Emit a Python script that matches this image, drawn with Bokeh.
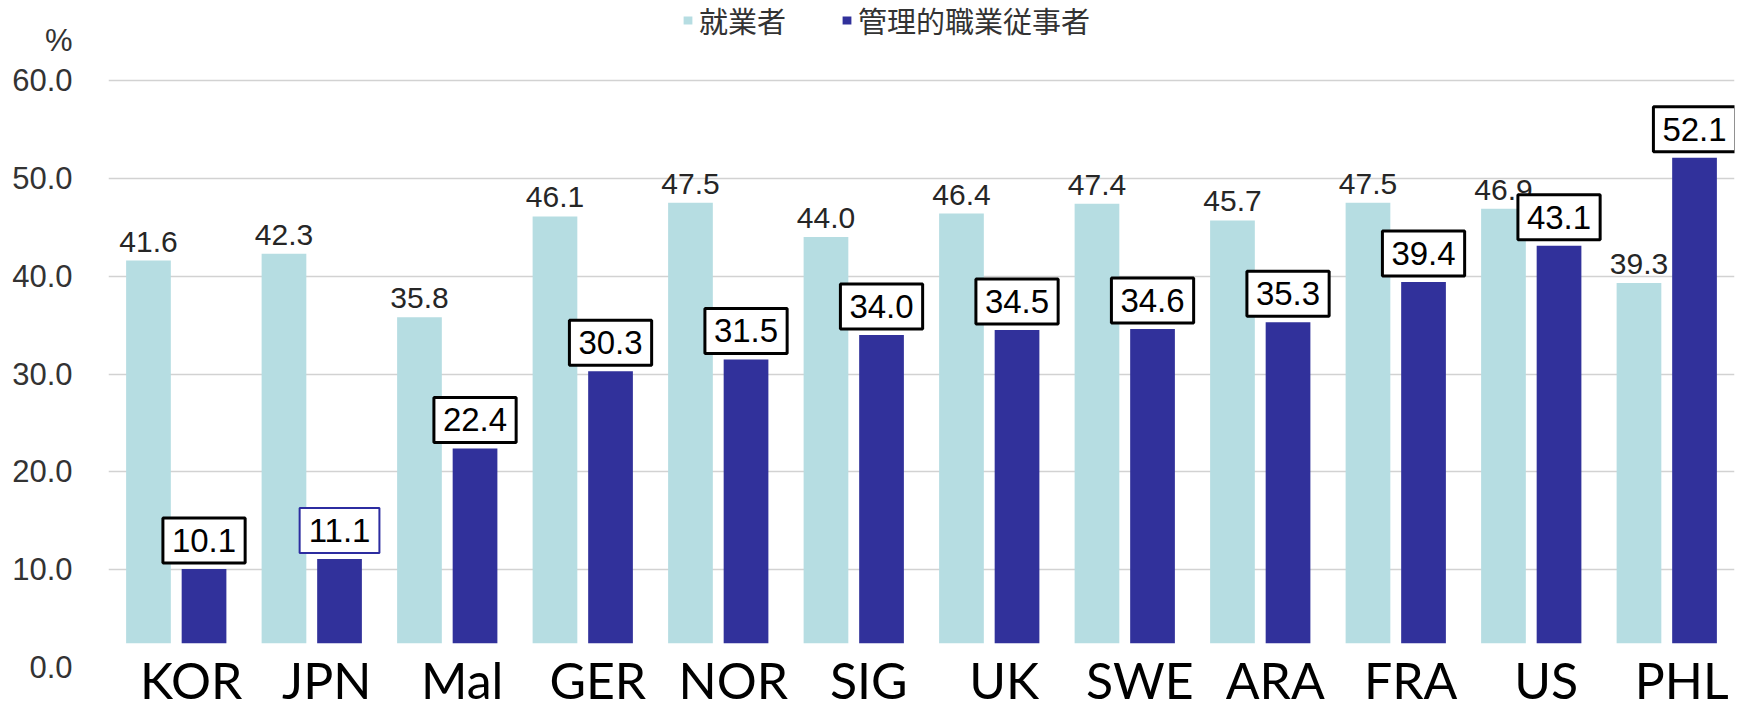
from bokeh.plotting import figure
from bokeh.models import (FactorRange, Range1d, FixedTicker, ColumnDataSource, Legend,
                          LegendItem, BoxAnnotation, LabelSet, NumeralTickFormatter)
from bokeh.transform import dodge
from bokeh.core.properties import value
from bokeh.embed import file_html
from bokeh.resources import INLINE

# ---- data ----
categories = ["KOR", "JPN", "Mal", "GER", "NOR", "SIG", "UK", "SWE", "ARA", "FRA", "US", "PHL"]
employed = [41.6, 42.3, 35.8, 46.1, 47.5, 44.0, 46.4, 47.4, 45.7, 47.5, 46.9, 39.3]
managers = [10.1, 11.1, 22.4, 30.3, 31.5, 34.0, 34.5, 34.6, 35.3, 39.4, 43.1, 52.1]
series_names = ["就業者", "管理的職業従事者"]
y_ticks = [0, 10, 20, 30, 40, 50, 60]
unit_label = "%"

# ---- styles ----
LIGHT = "#b6dde2"
DARK = "#31319b"
NUM = "Liberation Sans"
CAT = "Lato"
CJK = "Noto Sans CJK JP"
UNIT_POS = 64.1          # vertical place of the unit mark, above the top tick

border_colors = ["#2c2ca0" if c == "JPN" else "black" for c in categories]
border_widths = [2 if c == "JPN" else 3 for c in categories]

src = ColumnDataSource(dict(
    cat=categories,
    emp=employed,
    mgr=managers,
    emp_lbl=[f"{v:.1f}" for v in employed],
    mgr_lbl=[f"{v:.1f}" for v in managers],
    bcol=border_colors,
    bw=border_widths,
))

W, H = 1737, 709
p = figure(width=W, height=H,
           x_range=FactorRange(factors=categories, range_padding=0),
           y_range=Range1d(-4.26, 68.16),
           output_backend="svg", toolbar_location=None,
           min_border_left=108, min_border_right=3, min_border_top=0, min_border_bottom=0)
p.outline_line_color = None
p.background_fill_color = "white"
p.border_fill_color = "white"

p.xaxis.visible = False
p.xgrid.visible = False

yax = p.yaxis[0]
yax.ticker = FixedTicker(ticks=y_ticks + [UNIT_POS])
yax.formatter = NumeralTickFormatter(format="0.0")
yax.major_label_overrides = {UNIT_POS: unit_label}
yax.axis_line_color = None
yax.major_tick_line_color = None
yax.minor_tick_line_color = None
yax.major_label_standoff = 30
yax.major_label_text_font = NUM
yax.major_label_text_font_size = "31px"
yax.major_label_text_color = "#333333"

p.ygrid.ticker = FixedTicker(ticks=[t for t in y_ticks if t > 0])
p.ygrid.grid_line_color = "#d2d2d2"
p.ygrid.grid_line_width = 1.5

OFF = 0.205
BW = 0.33
r1 = p.vbar(x=dodge("cat", -OFF, range=p.x_range), top="emp", bottom=0, width=BW,
            fill_color=LIGHT, line_color=None, source=src)
r2 = p.vbar(x=dodge("cat", OFF, range=p.x_range), top="mgr", bottom=0, width=BW,
            fill_color=DARK, line_color=None, source=src)

p.text(x=dodge("cat", -OFF, range=p.x_range), y="emp", text="emp_lbl", source=src,
       text_align="center", text_baseline="alphabetic", y_offset=-19,
       text_font=value(NUM), text_font_size="30px", text_color="#262626")

p.text(x=dodge("cat", OFF, range=p.x_range), y="mgr", text="mgr_lbl", source=src,
       anchor="bottom_center", y_offset=-6, padding=(9, 11),
       background_fill_color="white", border_line_color="bcol", border_line_width="bw",
       text_font=value(NUM), text_font_size="33px", text_color="black")

# white strip at the bottom that hides the bar feet, as in the reference
cover = BoxAnnotation(top=2.5, fill_color="white", fill_alpha=1.0, line_color=None)
p.add_layout(cover)

cats = LabelSet(x="cat", y=0, text="cat", source=src, x_offset=15, y_offset=-31,
                text_align="center", text_baseline="alphabetic",
                text_font=value(CAT), text_font_size="50px", text_color="black")
p.add_layout(cats)

legend = Legend(items=[LegendItem(label=series_names[0], renderers=[r1]),
                       LegendItem(label=series_names[1], renderers=[r2])],
                orientation="horizontal", location=(574, 668),
                glyph_width=11, glyph_height=10, label_standoff=6, spacing=55,
                padding=0, margin=0, background_fill_alpha=0, border_line_color=None,
                label_text_font=CJK, label_text_font_size="29px",
                label_text_color="#333333")
p.add_layout(legend)

open("out.html", "w").write(file_html(p, INLINE))
